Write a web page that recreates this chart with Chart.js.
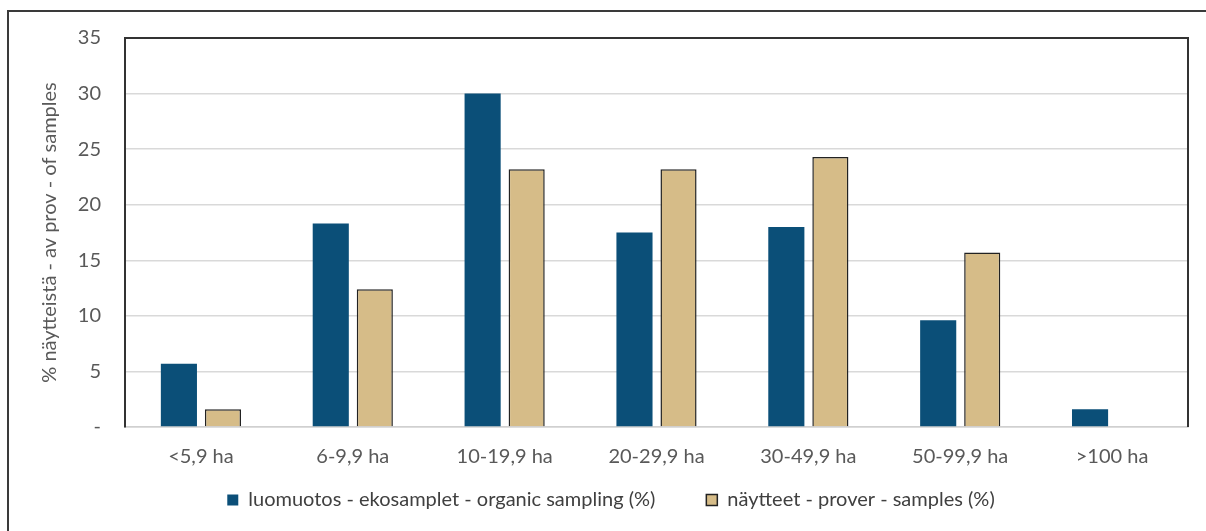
<!DOCTYPE html>
<html lang="fi">
<head>
<meta charset="UTF-8">
<title>Näytteet tilakoon mukaan</title>
<script src="https://cdn.jsdelivr.net/npm/chart.js"></script>
<style>
  body { margin: 0; background: #fff; }
  #wrap { position: relative; width: 1206px; height: 531px; overflow: hidden; }
  /* outer frame, cropped at right and bottom like the original */
  #frame { position: absolute; left: 7px; top: 10px; width: 1400px; height: 700px;
           border: 2px solid #3a3a3a; box-sizing: border-box; pointer-events: none; }
  canvas { position: absolute; left: 0; top: 0; }
</style>
</head>
<body>
<div id="wrap">
  <canvas id="c" width="1206" height="531"></canvas>
  <div id="frame"></div>
</div>
<script>
const categories = ['<5,9 ha', '6-9,9 ha', '10-19,9 ha', '20-29,9 ha', '30-49,9 ha', '50-99,9 ha', '>100 ha'];
const organicSampling = [5.7, 18.3, 30.0, 17.5, 18.0, 9.6, 1.6];
const allSamples = [1.6, 12.4, 23.2, 23.2, 24.3, 15.7, 0];
const seriesNames = ['luomuotos - ekosamplet - organic sampling (%)', 'näytteet - prover - samples (%)'];
const yTitle = '% näytteistä - av prov - of samples';

const FONT = 'Lato, "Liberation Sans", sans-serif';

// dark line on top and right of the plot area
const plotFrame = {
  id: 'plotFrame',
  afterDraw(chart) {
    const a = chart.chartArea, ctx = chart.ctx;
    ctx.save();
    ctx.strokeStyle = '#333';
    ctx.lineWidth = 2;
    ctx.beginPath();
    ctx.moveTo(a.left, a.top);
    ctx.lineTo(a.right, a.top);
    ctx.lineTo(a.right, a.bottom);
    ctx.stroke();
    ctx.restore();
  }
};

new Chart(document.getElementById('c'), {
  type: 'bar',
  data: {
    labels: categories,
    datasets: [{
      label: seriesNames[0],
      data: organicSampling,
      backgroundColor: '#0b4f78',
      borderColor: '#0b4f78',
      borderWidth: 0
    }, {
      label: seriesNames[1],
      data: allSamples,
      backgroundColor: '#d6bc88',
      borderColor: '#222',
      borderWidth: 1.5
    }]
  },
  options: {
    responsive: false,
    animation: false,
    layout: { padding: { left: 34, top: 38, right: 18, bottom: 11 } },
    datasets: { bar: { categoryPercentage: 0.58, barPercentage: 0.82 } },
    scales: {
      x: {
        grid: { display: false },
        border: { color: '#d0d0d0', width: 1.5 },
        ticks: { color: '#595959', font: { family: FONT, size: 20 }, padding: 10 },
        afterFit(s) { s.height = 53; }
      },
      y: {
        min: 0, max: 35,
        ticks: {
          stepSize: 5, color: '#595959', padding: 24,
          font: { family: FONT, size: 20 },
          callback: v => v === 0 ? '-' : v
        },
        grid: { color: '#d9d9d9', lineWidth: 1.5, drawTicks: false },
        border: { color: '#333', width: 2 },
        title: { display: true, text: yTitle, color: '#595959', font: { family: FONT, size: 20 } },
        afterFit(s) { s.width = 91; }
      }
    },
    plugins: {
      legend: {
        position: 'bottom',
        labels: {
          boxWidth: 11, boxHeight: 11, padding: 10, color: '#404040',
          font: { family: FONT, size: 20 },
          generateLabels(chart) {
            const items = Chart.defaults.plugins.legend.labels.generateLabels(chart);
            // wider gap between the two entries, as in the original
            items[0].text += '        ';
            return items;
          }
        }
      },
      tooltip: { enabled: false }
    }
  },
  plugins: [plotFrame]
});
</script>
</body>
</html>
